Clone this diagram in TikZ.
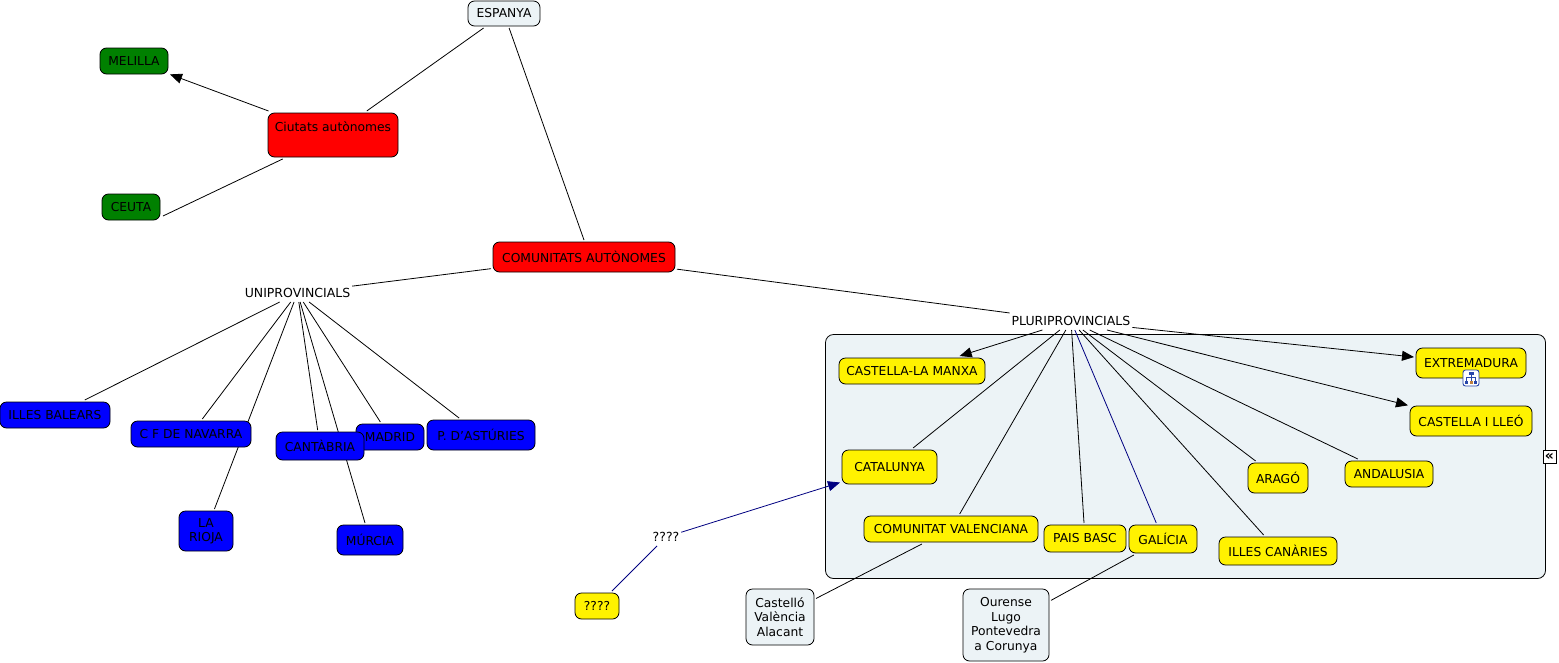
\documentclass[tikz,border=0pt]{standalone}
\usepackage{fontspec}
\setmainfont{DejaVu Sans}
\usetikzlibrary{arrows.meta}
\pgfdeclarelayer{panel}
\pgfdeclarelayer{edges}
\pgfsetlayers{panel,edges,main}
\definecolor{panelcol}{RGB}{236,243,246}
\definecolor{navyline}{RGB}{0,0,128}
\definecolor{greenbox}{RGB}{0,128,0}
\definecolor{iconblue}{RGB}{40,70,170}
\tikzset{
  concept/.style={draw=black,line width=0.8pt,rounded corners=6.5,inner sep=0pt,outer sep=2pt,align=center,
    font=\fontsize{12.3}{14.5}\selectfont,text=black},
  plain/.style={concept,fill=panelcol},
  redbox/.style={concept,fill=red},
  greenb/.style={concept,fill=greenbox},
  bluebox/.style={concept,fill=blue},
  yellowbox/.style={concept,fill=yellow},
  bare/.style={inner sep=0pt,outer sep=2pt,font=\fontsize{12.5}{14.5}\selectfont,minimum height=14},
  link/.style={line width=0.8pt},
  tolink/.style={link,-{Triangle[length=12,width=10]}},
  navylink/.style={link,color=navyline},
  wh/.style 2 args={minimum width=#1,minimum height=#2}
}
\begin{document}
\begin{tikzpicture}[x=1pt,y=-1pt]
    \useasboundingbox (0,0) rectangle (1559,662);
    % panel
    \begin{pgfonlayer}{panel}
        \draw[fill=panelcol,line width=0.8pt,rounded corners=8] (825.5,334.5) rectangle (1545.5,578.5);
    \end{pgfonlayer}
    % top part
    \node (espanya) at (504,13.5) [plain,wh={72}{25}] {ESPANYA};
    \node (melilla) at (134,61) [greenb,wh={68}{26}] {MELILLA};
    \node (ceuta) at (131,207) [greenb,wh={58}{26}] {CEUTA};
    \coordinate (ceutaend) at (163,216);
    \node (ciutats) at (333,135) [redbox,wh={130}{44},text height=15,text depth=23] {Ciutats autònomes};
    \node (comunitats) at (584,257) [redbox,wh={182}{30}] {COMUNITATS AUTÒNOMES};
    \node (uni) at (297.5,293) [bare] {UNIPROVINCIALS};
    \node (pluri) at (1071,321) [bare] {PLURIPROVINCIALS};
    % uniprovincials
    \node (balears) at (55,415) [bluebox,wh={110}{26}] {ILLES BALEARS};
    \node (navarra) at (191,434) [bluebox,wh={120}{26}] {C F DE NAVARRA};
    \node (rioja) at (206,531) [bluebox,wh={54}{40}] {LA\\RIOJA};
    \node (madrid) at (390,437) [bluebox,wh={68}{26}] {MADRID};
    \node (cantabria) at (320,446) [bluebox,wh={88}{28}] {CANTÀBRIA};
    \node (murcia) at (370,540) [bluebox,wh={66}{30}] {MÚRCIA};
    \node (asturies) at (481,435) [bluebox,wh={108}{30}] {P. D'ASTÚRIES};
    % pluriprovincials
    \node (manxa) at (912,371) [yellowbox,wh={146}{26}] {CASTELLA-LA MANXA};
    \node (catalunya) at (889.5,467) [yellowbox,wh={95}{34}] {CATALUNYA};
    \node (valenciana) at (951,529) [yellowbox,wh={174}{26}] {COMUNITAT VALENCIANA};
    \node (basc) at (1085,538.5) [yellowbox,wh={82}{27}] {PAIS BASC};
    \node (galicia) at (1163,539) [yellowbox,wh={68}{28}] {GALÍCIA};
    \node (canaries) at (1278,551) [yellowbox,wh={118}{28}] {ILLES CANÀRIES};
    \node (arago) at (1278,478) [yellowbox,wh={60}{30}] {ARAGÓ};
    \node (andalusia) at (1389,474) [yellowbox,wh={88}{26}] {ANDALUSIA};
    \node (extremadura) at (1471,363) [yellowbox,wh={110}{30}] {EXTREMADURA};
    \node (lleo) at (1471,421) [yellowbox,wh={122}{30}] {CASTELLA I LLEÓ};
    % lower boxes
    \node (interr) at (666,537) [bare] {????};
    \node (yellowq) at (597,606) [yellowbox,wh={44}{26}] {????};
    \node (castello) at (780,617) [plain,wh={68}{56}] {Castelló\\València\\Alacant};
    \node (ourense) at (1006,625) [plain,wh={86}{72}] {Ourense\\Lugo\\Pontevedra\\a Corunya};
    % small marks
    \node (mapicon) at (1471,378) [draw=iconblue,fill=white,rounded corners=2.5,line width=0.9pt,minimum size=16,inner sep=0pt] {};
    \draw[iconblue,line width=0.6pt] (1471,374) -- (1471,381) (1466.5,381) -- (1466.5,377) -- (1475.5,377) -- (1475.5,381);
    \fill[iconblue] (1468.5,371.5) rectangle (1473.5,375);
    \fill[iconblue] (1465,380.5) rectangle (1468,384);
    \fill[iconblue] (1474,380.5) rectangle (1477,384);
    \fill[brown] (1469.5,381) rectangle (1472.5,384);
    \node (collapse) at (1549.5,456.5) [draw=black,fill=white,line width=0.9pt,minimum size=13,inner sep=0pt,font=\bfseries\fontsize{14}{14}\selectfont] {«};
    % connectors
    \begin{pgfonlayer}{edges}
        \draw[link] (espanya) -- (ciutats);
        \draw[link] (espanya) -- (comunitats.north);
        \draw[tolink] (ciutats) -- (melilla);
        \draw[link] (ciutats) -- (ceutaend);
        \draw[link] (comunitats) -- (uni);
        \draw[link] (comunitats) -- (pluri);
        \foreach \target in {balears,navarra,rioja,cantabria,murcia,madrid,asturies}
            \draw[link] (uni) -- (\target);
        \foreach \target in {catalunya,valenciana,basc,canaries,arago,andalusia}
            \draw[link] (pluri) -- (\target);
        \draw[navylink] (pluri) -- (galicia);
        \foreach \target in {manxa,extremadura,lleo}
            \draw[tolink] (pluri) -- (\target);
        \draw[navylink] (yellowq) -- (interr);
        \draw[navylink,tolink] (interr) -- (catalunya);
        \draw[link] (valenciana) -- (castello);
        \draw[link] (galicia) -- (ourense);
    \end{pgfonlayer}
\end{tikzpicture}
\end{document}
